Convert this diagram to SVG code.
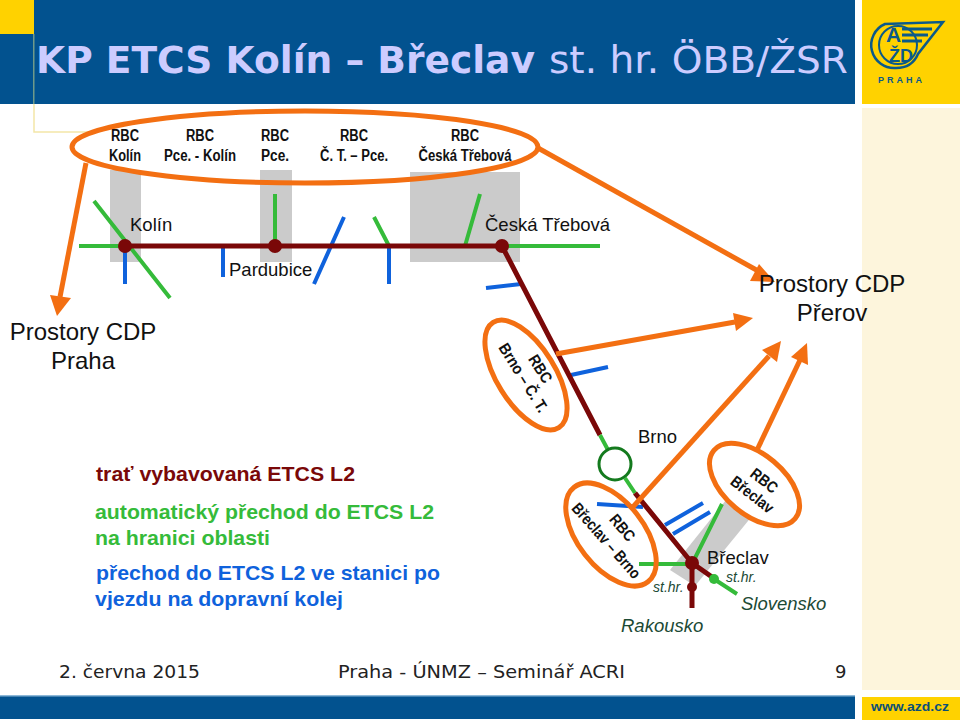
<svg xmlns="http://www.w3.org/2000/svg" width="960" height="720" viewBox="0 0 960 720">
<style>
text{font-family:"Liberation Sans",Arial,sans-serif;fill:#111}
.rbc{font-size:16px;font-weight:bold;text-anchor:middle}
.lab{font-size:18.5px}
.big{font-size:24px;text-anchor:middle}
.it{font-style:italic;fill:#1c4a35}
.leg{font-size:21px;font-weight:bold}
.foot{font-family:"DejaVu Sans",Verdana,sans-serif;font-size:18px;fill:#222}
.green{stroke:#35bb3a;stroke-width:4;fill:none}
.blue{stroke:#0f62dc;stroke-width:4;fill:none}
.red{stroke:#7a0808;stroke-width:5;fill:none}
.or{stroke:#f36f12;stroke-width:5;fill:none}
.orh{fill:#f36f12}
.node{fill:#7a0808}
.grey{fill:#cbcbcb}
</style>
<rect width="960" height="720" fill="#fff"/>
<g id="frame">
<rect x="0" y="0" width="855" height="104" fill="#02528f"/>
<rect x="0" y="0" width="34" height="34" fill="#ffd200"/>
<rect x="33" y="34" width="1.5" height="70" fill="#6f9a8a"/>
<path d="M34 104V132H90" fill="none" stroke="#f3e6a8" stroke-width="1.5"/>
<rect x="862" y="108" width="98" height="582" fill="#fdf5dc"/>
<rect x="0" y="695" width="855" height="24" fill="#02528f"/>
<rect x="0" y="695" width="855" height="1.5" fill="#8db8d8"/>
<rect x="862" y="697" width="98" height="23" fill="#ffd200"/>
<text x="871" y="711" font-size="13" font-weight="bold" style="fill:#0a4f78" textLength="78" lengthAdjust="spacingAndGlyphs">www.azd.cz</text>
</g>
<g id="title">
<text x="36" y="73" font-size="37" font-weight="bold" style="font-family:'DejaVu Sans',Verdana,sans-serif;fill:#ccccff" textLength="499" lengthAdjust="spacingAndGlyphs">KP ETCS Kolín – Břeclav</text>
<text x="549" y="73" font-size="37" style="font-family:'DejaVu Sans',Verdana,sans-serif;fill:#ccccff" textLength="299" lengthAdjust="spacingAndGlyphs">st. hr. ÖBB/ŽSR</text>
</g>
<g id="logo">
<rect x="862" y="0" width="98" height="104" fill="#ffd200"/>
<path d="M885 24L943 22L918 54Q912 68 896 68A23 23 0 0 1 885 24Z" fill="none" stroke="#0b5a8a" stroke-width="2.5"/>
<circle cx="898" cy="45" r="19" fill="none" stroke="#0b5a8a" stroke-width="2"/>
<path d="M902 29H932M902 35H928M902 41H922" stroke="#0b5a8a" stroke-width="3" fill="none"/>
<text x="886" y="42" font-size="21" font-weight="bold" style="fill:#0b5a8a">A</text>
<text x="889" y="62" font-size="18" font-weight="bold" style="fill:#0b5a8a">ŽD</text>
<text x="878" y="83" font-size="9" font-weight="bold" letter-spacing="3" style="fill:#0b5a8a">PRAHA</text>
</g>
<g id="stations-bg">
<rect class="grey" x="110" y="170" width="31" height="92"/>
<rect class="grey" x="260" y="170" width="32" height="92"/>
<rect class="grey" x="410" y="172" width="110" height="90"/>
<polygon class="grey" points="730,495 757,510 695,586 670,570"/>
</g>
<g id="connectors">
<path class="green" d="M79 246H125M94 201L170 298M275 194V246M374 217L389 246M480 194L465 246M502 246H600"/>
<path class="blue" d="M125 246V284M223 248V277M344 217L314 284M389 246V284M486 288L521 284M571 375L608 367"/>
<path class="red" d="M125 246H502L600 435"/>
<path class="green" d="M600 435L608 450M625 478L635 493M639 564H692M692 564L722 504M714 579L737 594"/>
<path class="blue" d="M597 504L643 507M665 525L703 503M673 534L710 512"/>
<path class="red" d="M635 493L692 563L712 577M692 564V608"/>
<path class="or" d="M86 163L60 297"/><polygon class="orh" points="57,316 50,295 71,298"/>
<path class="or" d="M538 148L760 272"/><polygon class="orh" points="775,282 759,264 750,281"/>
<path class="or" d="M556 354L735 322"/><polygon class="orh" points="753,318 733,313 736,331"/>
<path class="or" d="M632 508L769 356"/><polygon class="orh" points="781,341 762,350 777,362"/>
<path class="or" d="M757 450L800 360"/><polygon class="orh" points="807,343 791,357 808,365"/>
</g>
<g id="node-kolin"><circle class="node" cx="125" cy="246" r="7"/><text class="lab" x="130" y="231">Kolín</text></g>
<g id="node-pardubice"><circle class="node" cx="275" cy="246" r="7"/><text class="lab" x="229" y="276">Pardubice</text></g>
<g id="node-ceska-trebova"><circle class="node" cx="502" cy="246" r="7"/><text class="lab" x="485" y="231">Česká Třebová</text></g>
<g id="node-brno"><circle cx="615" cy="464" r="16" fill="#fff" stroke="#147a1e" stroke-width="3"/><text class="lab" x="638" y="443">Brno</text></g>
<g id="node-breclav"><circle class="node" cx="692" cy="563" r="7"/><text class="lab" x="707" y="564">Břeclav</text></g>
<g id="node-sthr-rakousko"><circle class="node" cx="692" cy="587" r="5"/><text class="it" x="653" y="592" font-size="14">st.hr.</text><text class="it" x="621" y="632" font-size="18.5">Rakousko</text></g>
<g id="node-sthr-slovensko"><circle cx="714" cy="579" r="5" fill="#35bb3a"/><text class="it" x="726" y="582" font-size="14">st.hr.</text><text class="it" x="741" y="610" font-size="18.5">Slovensko</text></g>
<g id="rbc-group">
<ellipse class="or" cx="305" cy="147" rx="233" ry="36"/>
<text class="rbc" x="125" y="141" textLength="28" lengthAdjust="spacingAndGlyphs">RBC</text><text class="rbc" x="125" y="161" textLength="32" lengthAdjust="spacingAndGlyphs">Kolín</text>
<text class="rbc" x="200" y="141" textLength="28" lengthAdjust="spacingAndGlyphs">RBC</text><text class="rbc" x="200" y="161" textLength="72" lengthAdjust="spacingAndGlyphs">Pce. - Kolín</text>
<text class="rbc" x="275" y="141" textLength="28" lengthAdjust="spacingAndGlyphs">RBC</text><text class="rbc" x="275" y="161" textLength="28" lengthAdjust="spacingAndGlyphs">Pce.</text>
<text class="rbc" x="354" y="141" textLength="28" lengthAdjust="spacingAndGlyphs">RBC</text><text class="rbc" x="354" y="161" textLength="68" lengthAdjust="spacingAndGlyphs">Č. T. – Pce.</text>
<text class="rbc" x="465" y="141" textLength="28" lengthAdjust="spacingAndGlyphs">RBC</text><text class="rbc" x="465" y="161" textLength="93" lengthAdjust="spacingAndGlyphs">Česká Třebová</text>
</g>
<g id="rbc-brno-ct">
<ellipse class="or" cx="526" cy="375" rx="62" ry="29" transform="rotate(58 526 375)" style="fill:#fff"/>
<text class="rbc" transform="translate(540 369) rotate(58)" y="5" textLength="30" lengthAdjust="spacingAndGlyphs">RBC</text>
<text class="rbc" transform="translate(523 378) rotate(58)" y="5" textLength="78" lengthAdjust="spacingAndGlyphs">Brno – Č. T.</text>
</g>
<g id="rbc-breclav-brno">
<ellipse class="or" cx="611" cy="534.5" rx="60" ry="33" transform="rotate(52 611 534.5)"/>
<text class="rbc" transform="translate(622 528) rotate(50)" y="5" textLength="30" lengthAdjust="spacingAndGlyphs">RBC</text>
<text class="rbc" transform="translate(606 541) rotate(48.5)" y="5" textLength="95" lengthAdjust="spacingAndGlyphs">Břeclav – Brno</text>
</g>
<g id="rbc-breclav">
<ellipse class="or" cx="754.5" cy="484.5" rx="53" ry="30" transform="rotate(40 754.5 484.5)" style="fill:#fff"/>
<text class="rbc" transform="translate(764 481) rotate(38)" y="5" textLength="30" lengthAdjust="spacingAndGlyphs">RBC</text>
<text class="rbc" transform="translate(752 495) rotate(38)" y="5" textLength="50" lengthAdjust="spacingAndGlyphs">Břeclav</text>
</g>
<g id="cdp-praha"><text class="big" x="83" y="340">Prostory CDP</text><text class="big" x="83" y="369">Praha</text></g>
<g id="cdp-prerov"><text class="big" x="832" y="292">Prostory CDP</text><text class="big" x="832" y="321">Přerov</text></g>
<g id="legend">
<text class="leg" x="96" y="481" style="fill:#7a0808" textLength="259" lengthAdjust="spacingAndGlyphs">trať vybavovaná ETCS L2</text>
<text class="leg" x="95" y="519" style="fill:#35bb3a" textLength="339" lengthAdjust="spacingAndGlyphs">automatický přechod do ETCS L2</text>
<text class="leg" x="95" y="545" style="fill:#35bb3a" textLength="175" lengthAdjust="spacingAndGlyphs">na hranici oblasti</text>
<text class="leg" x="96" y="580" style="fill:#0f62dc" textLength="344" lengthAdjust="spacingAndGlyphs">přechod do ETCS L2 ve stanici po</text>
<text class="leg" x="95" y="606" style="fill:#0f62dc" textLength="248" lengthAdjust="spacingAndGlyphs">vjezdu na dopravní kolej</text>
</g>
<g id="footer">
<text class="foot" x="59" y="678" textLength="141" lengthAdjust="spacingAndGlyphs">2. června 2015</text>
<text class="foot" x="338" y="678" textLength="287" lengthAdjust="spacingAndGlyphs">Praha - ÚNMZ – Seminář ACRI</text>
<text class="foot" x="835" y="678">9</text>
</g>
</svg>
